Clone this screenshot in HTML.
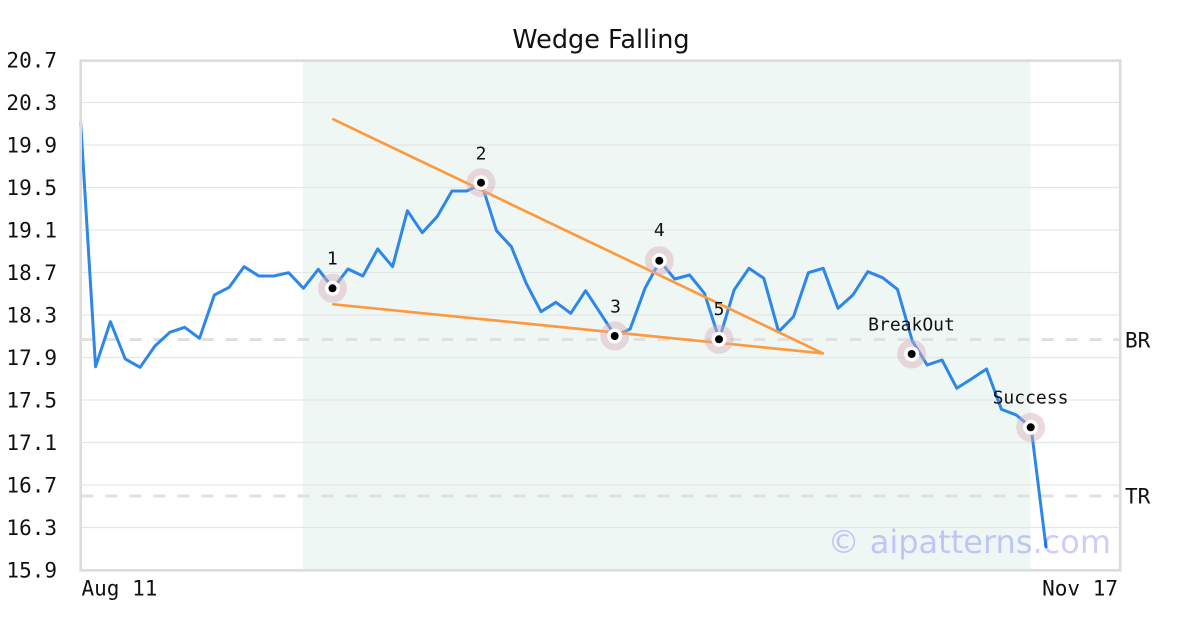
<!DOCTYPE html>
<html>
<head>
<meta charset="utf-8">
<style>
  html, body { margin: 0; padding: 0; background: #ffffff; }
  body { width: 1200px; height: 630px; overflow: hidden; }
  svg { display: block; }
</style>
</head>
<body>
<svg width="1200" height="630" viewBox="0 0 1200 630" xmlns="http://www.w3.org/2000/svg">
  <rect x="0" y="0" width="1200" height="630" fill="#ffffff"/>

  <!-- shaded pattern region -->
  <rect x="303" y="61" width="727.7" height="509" fill="#eff7f4"/>

  <!-- grid lines -->
  <g stroke="#e6e6e6" stroke-width="1.3">
    <line x1="81" y1="102.5" x2="1120" y2="102.5"/>
    <line x1="81" y1="145" x2="1120" y2="145"/>
    <line x1="81" y1="187.5" x2="1120" y2="187.5"/>
    <line x1="81" y1="230" x2="1120" y2="230"/>
    <line x1="81" y1="272.5" x2="1120" y2="272.5"/>
    <line x1="81" y1="315" x2="1120" y2="315"/>
    <line x1="81" y1="357.5" x2="1120" y2="357.5"/>
    <line x1="81" y1="400" x2="1120" y2="400"/>
    <line x1="81" y1="442.5" x2="1120" y2="442.5"/>
    <line x1="81" y1="485" x2="1120" y2="485"/>
    <line x1="81" y1="527.5" x2="1120" y2="527.5"/>
  </g>

  <!-- BR / TR dashed lines -->
  <g stroke="#e0e0e0" stroke-width="3" stroke-dasharray="12 12">
    <line x1="81.5" y1="339.5" x2="1120" y2="339.5"/>
    <line x1="81.5" y1="496" x2="1120" y2="496"/>
  </g>

  <!-- price line -->
  <polyline fill="none" stroke="#2d87e8" stroke-width="3" stroke-linejoin="round" stroke-linecap="round"
    points="80.7,123.3 95.55,366.7 110.4,321.7 125.25,359 140.1,367.3 154.95,346 169.8,332.3 184.65,327.3 199.5,338.3 214.35,295 229.2,287.3 244.05,266.7 258.9,276 273.75,276 288.6,272.7 303.45,288.3 318.3,269.3 333.15,288.3 348,269 362.85,276 377.7,249 392.55,266.7 407.4,210.7 422.25,232.7 437.1,216.7 451.95,191 466.8,191 481.65,184 496.5,230.7 511.35,246.7 526.2,283.3 541.05,311.7 555.9,302.3 570.75,313.3 585.6,290.7 600.45,313.3 615.3,336 630.15,329 645,288.3 659.85,261 674.7,279 689.55,275 704.4,293.3 719.25,339.3 734.1,290 748.95,268.3 763.8,278.3 778.65,331.7 793.5,316.7 808.35,272.7 823.2,268.3 838.05,308.3 852.9,295 867.75,271.7 882.6,277.7 897.45,289.3 912.3,341 927.15,365 942,360 956.85,388.3 971.7,378.7 986.55,369 1001.4,409.3 1016.25,415 1031.1,427.3 1045.95,546.7"/>

  <!-- wedge lines -->
  <g stroke="#fd9a40" stroke-width="2.7" stroke-linecap="round">
    <line x1="333.3" y1="119.3" x2="822.7" y2="353.3"/>
    <line x1="333.3" y1="304.3" x2="822.7" y2="353.3"/>
  </g>

  <!-- markers -->
  <g>
    <g transform="translate(332.5,288.3)"><circle r="14.5" fill="#d8adb8" fill-opacity="0.45"/><circle r="7.5" fill="#ffffff"/><circle r="4" fill="#000000"/></g>
    <g transform="translate(481,182.7)"><circle r="14.5" fill="#d8adb8" fill-opacity="0.45"/><circle r="7.5" fill="#ffffff"/><circle r="4" fill="#000000"/></g>
    <g transform="translate(614.7,336)"><circle r="14.5" fill="#d8adb8" fill-opacity="0.45"/><circle r="7.5" fill="#ffffff"/><circle r="4" fill="#000000"/></g>
    <g transform="translate(659.3,260.7)"><circle r="14.5" fill="#d8adb8" fill-opacity="0.45"/><circle r="7.5" fill="#ffffff"/><circle r="4" fill="#000000"/></g>
    <g transform="translate(719,339.3)"><circle r="14.5" fill="#d8adb8" fill-opacity="0.45"/><circle r="7.5" fill="#ffffff"/><circle r="4" fill="#000000"/></g>
    <g transform="translate(911.7,354)"><circle r="14.5" fill="#d8adb8" fill-opacity="0.45"/><circle r="7.5" fill="#ffffff"/><circle r="4" fill="#000000"/></g>
    <g transform="translate(1030.7,427.3)"><circle r="14.5" fill="#d8adb8" fill-opacity="0.45"/><circle r="7.5" fill="#ffffff"/><circle r="4" fill="#000000"/></g>
  </g>

  <!-- point labels -->
  <g font-family="'DejaVu Sans Mono', 'Liberation Mono', monospace" font-size="18" fill="#111111" text-anchor="middle">
    <text x="332.3" y="264.6">1</text>
    <text x="481" y="159.6">2</text>
    <text x="615.5" y="312.6">3</text>
    <text x="659.3" y="235.9">4</text>
    <text x="719" y="314.9">5</text>
    <text x="911.5" y="330.6">BreakOut</text>
    <text x="1030.5" y="403.3">Success</text>
  </g>

  <!-- watermark -->
  <text x="1111" y="553" text-anchor="end" font-family="'DejaVu Sans', 'Liberation Sans', sans-serif" font-size="32" fill="#0000ff" fill-opacity="0.2">© aipatterns.com</text>

  <!-- plot border -->
  <rect x="80.7" y="60.7" width="1039.5" height="509.6" fill="none" stroke="#dcdcdc" stroke-width="2.7"/>

  <!-- y axis labels -->
  <g font-family="'DejaVu Sans Mono', 'Liberation Mono', monospace" font-size="21" fill="#111111" text-anchor="end">
    <text x="57" y="67.6">20.7</text>
    <text x="57" y="110.1">20.3</text>
    <text x="57" y="152.6">19.9</text>
    <text x="57" y="195.1">19.5</text>
    <text x="57" y="237.6">19.1</text>
    <text x="57" y="280.1">18.7</text>
    <text x="57" y="322.6">18.3</text>
    <text x="57" y="365.1">17.9</text>
    <text x="57" y="407.6">17.5</text>
    <text x="57" y="450.1">17.1</text>
    <text x="57" y="492.6">16.7</text>
    <text x="57" y="535.1">16.3</text>
    <text x="57" y="577.6">15.9</text>
  </g>

  <!-- x axis labels -->
  <g font-family="'DejaVu Sans Mono', 'Liberation Mono', monospace" font-size="21" fill="#111111">
    <text x="81.5" y="595.3">Aug 11</text>
    <text x="1118" y="595.3" text-anchor="end">Nov 17</text>
  </g>

  <!-- BR / TR labels -->
  <g font-family="'DejaVu Sans Mono', 'Liberation Mono', monospace" font-size="21" fill="#111111">
    <text x="1125" y="347.6">BR</text>
    <text x="1125" y="503.6">TR</text>
  </g>

  <!-- title -->
  <text x="601" y="48" text-anchor="middle" font-family="'DejaVu Sans', 'Liberation Sans', sans-serif" font-size="25.5" fill="#111111">Wedge Falling</text>
</svg>
</body>
</html>
